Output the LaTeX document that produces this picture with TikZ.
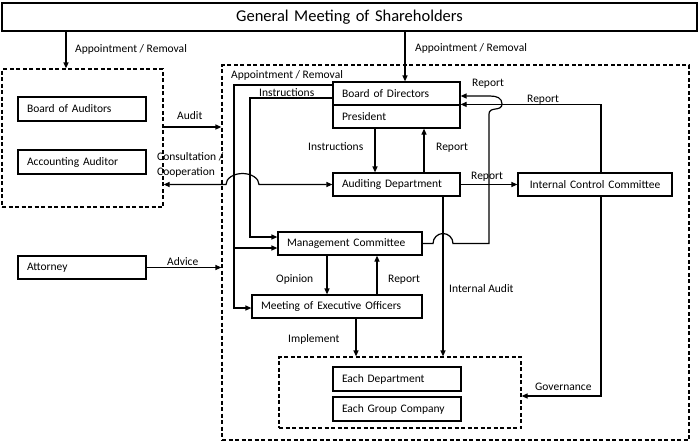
\documentclass[tikz,border=0pt]{standalone}
\usepackage{fontspec}
\setmainfont{Carlito}
\usetikzlibrary{arrows.meta}
\begin{document}
\begin{tikzpicture}[x=1pt,y=-1pt,
  every node/.style={font=\fontsize{11.5}{13}\selectfont},
  box/.style 2 args={draw, line width=1.2pt, text width=#1, minimum height=#2, inner xsep=9pt, inner ysep=0pt, align=left},
  dbox/.style 2 args={draw, line width=1.2pt, dash pattern=on 4pt off 2.5pt, minimum width=#1, minimum height=#2, inner sep=0pt},
  lab/.style={inner sep=0pt, anchor=base west},
  tip/.tip={Triangle[length=6pt,width=5pt]},
  arr/.style={line width=1.2pt, -tip},
  ln/.style={line width=1.2pt},
]
\fill[white] (0,0) rectangle (700,442);
\useasboundingbox (0,0) rectangle (700,442);

% boxes
\node[box={677pt}{28pt}, align=center, font=\fontsize{16.5}{18}\selectfont] (gm) at (349.5,17) {General Meeting of Shareholders};
\node[dbox={161pt}{138pt}] (ld) at (82.5,138) {};
\node[box={110pt}{24pt}] (boa) at (82,109) {Board of Auditors};
\node[box={110pt}{24pt}] (aa) at (82,162) {Accounting Auditor};
\node[box={110pt}{23pt}] (att) at (82,267.5) {Attorney};
\node[dbox={467pt}{375pt}] (rd) at (455.5,252.5) {};
\node[box={109pt}{23pt}] (bod) at (396.5,93.5) {Board of Directors};
\node[box={109pt}{23pt}] (pres) at (396.5,116.5) {President};
\node[box={109pt}{23pt}] (ad) at (396.5,184.5) {Auditing Department};
\node[box={136pt}{23pt}, align=center] (icc) at (595,184.5) {Internal Control Committee};
\node[box={126pt}{23pt}] (mc) at (350,243.5) {Management Committee};
\node[box={152pt}{23pt}] (meo) at (337,306.5) {Meeting of Executive Officers};
\node[dbox={242pt}{71pt}] (dd) at (400,392.5) {};
\node[box={110pt}{24pt}] (ed) at (397,379) {Each Department};
\node[box={110pt}{24pt}] (egc) at (397,409) {Each Group Company};

% helper coordinates
\coordinate (x66) at (66,0);
\coordinate (x405) at (405,0);
\coordinate (x375) at (375,0);
\coordinate (x424) at (424,0);
\coordinate (x601) at (601,0);
\coordinate (x327) at (327,0);
\coordinate (x377) at (377,0);
\coordinate (x356) at (356,0);
\coordinate (x443) at (443,0);
\coordinate (y127) at (0,127);
\coordinate (y85) at (0,85);
\coordinate (y98) at (0,98);
\coordinate (y96) at (0,96);
\coordinate (y396) at (0,396);
\coordinate (apL) at (234,85);
\coordinate (apM) at (234,248);
\coordinate (apB) at (234,308);
\coordinate (inL) at (250,98);
\coordinate (inB) at (250,237);
\coordinate (hopA) at (226,184.5);
\coordinate (hopB) at (433,243.5);
\coordinate (mcR) at (489,243.5);
\coordinate (mcU) at (489,114);

% connectors
\draw[arr] (gm.south -| x66) -- (ld.north -| x66);
\draw[arr] (gm.south -| x405) -- (bod.north -| x405);
\draw[arr] (ld.east |- y127) -- (rd.west |- y127);
\draw[arr] (att.east) -- (rd.west |- att.east);
\draw[ln, tip-tip] (ld.east |- ad.west) -- (hopA) arc[start angle=180,end angle=0,x radius=16.5pt,y radius=11pt] -- (ad.west);
\draw[arr] (bod.west |- y85) -- (apL) -- (apB) -- (meo.west |- apB);
\draw[arr] (apM) -- (mc.west |- apM);
\draw[arr] (bod.west |- y98) -- (inL) -- (inB) -- (mc.west |- inB);
\draw[arr] (pres.south -| x375) -- (ad.north -| x375);
\draw[arr] (ad.north -| x424) -- (pres.south -| x424);
\draw[arr] (ad.east) -- (icc.west);
\draw[arr] (icc.north -| x601) |- (pres.north east);
\draw[arr] (icc.south -| x601) |- (dd.east |- y396);
\draw[arr] (mc.east) -- (hopB) arc[start angle=180,end angle=0,radius=10pt] -- (mcR) -- (mcU)
  .. controls (489,106) and (502,112) .. (502,104)
  .. controls (502,98) and (497,96) .. (490,96) -- (bod.east |- y96);
\draw[arr] (mc.south -| x327) -- (meo.north -| x327);
\draw[arr] (meo.north -| x377) -- (mc.south -| x377);
\draw[arr] (meo.south -| x356) -- (dd.north -| x356);
\draw[arr] (ad.south -| x443) -- (dd.north -| x443);

% labels
\node[lab] (ar1) at (75,52) {Appointment / Removal};
\node[lab] (ar2) at (415,51) {Appointment / Removal};
\node[lab] (ar3) at (231,78) {Appointment / Removal};
\node[lab] (audit) at (177,119) {Audit};
\node[lab] (cons) at (157,160) {Consultation /};
\node[lab] (coop) at (157,175) {Cooperation};
\node[lab] (advice) at (167,265) {Advice};
\node[lab] (ins1) at (259,96) {Instructions};
\node[lab] (ins2) at (308,150) {Instructions};
\node[lab] (rep1) at (436,150) {Report};
\node[lab] (rep2) at (472,86) {Report};
\node[lab] (rep3) at (527,102) {Report};
\node[lab] (rep4) at (471,179) {Report};
\node[lab] (iaud) at (449,292) {Internal Audit};
\node[lab] (opin) at (276,282) {Opinion};
\node[lab] (rep5) at (388,282) {Report};
\node[lab] (impl) at (288,342) {Implement};
\node[lab] (gov) at (535,390) {Governance};
\end{tikzpicture}
\end{document}
